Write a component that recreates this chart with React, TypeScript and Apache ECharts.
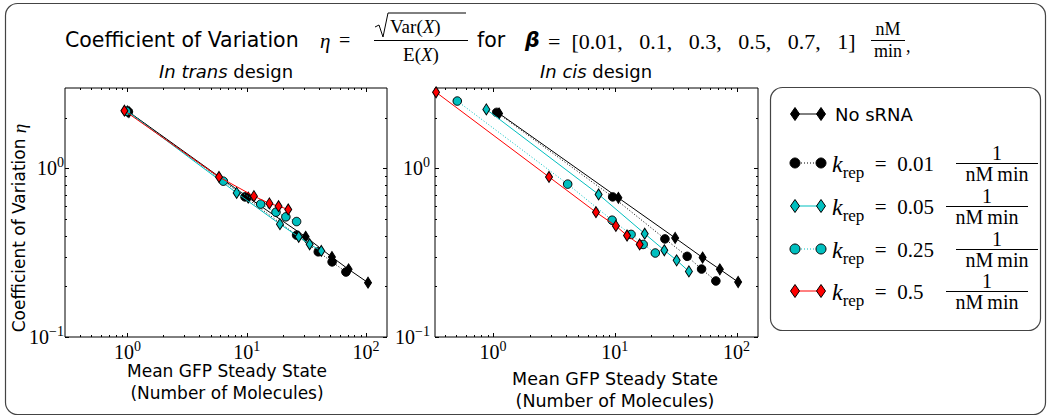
import React, { useEffect, useRef } from 'react';
import * as echarts from 'echarts';

// ---------- data ----------
const betaValues = [0.01, 0.1, 0.3, 0.5, 0.7, 1];
const seriesNames = ['No sRNA', 'k_rep = 0.01', 'k_rep = 0.05', 'k_rep = 0.25', 'k_rep = 0.5'];

// In trans design
const transNoSrnaX = [1.03, 10.3, 31.2, 51.8, 71.5, 104];
const transNoSrnaY = [2.16, 0.672, 0.393, 0.298, 0.252, 0.21];
const transK001X = [1.02, 9.68, 26.2, 39.8, 52, 67.9];
const transK001Y = [2.17, 0.678, 0.402, 0.32, 0.279, 0.243];
const transK005X = [1.0, 8.24, 19.0, 27.3, 33.7, 42.2];
const transK005Y = [2.18, 0.716, 0.467, 0.393, 0.355, 0.324];
const transK025X = [0.98, 6.37, 13.1, 17.6, 21.3, 26.2];
const transK025Y = [2.18, 0.84, 0.614, 0.55, 0.516, 0.484];
const transK05X = [0.944, 5.86, 11.5, 15.5, 18.5, 22.3];
const transK05Y = [2.2, 0.89, 0.685, 0.62, 0.597, 0.571];

// In cis design
const cisNoSrnaX = [1.12, 10.7, 31.3, 52.6, 72.9, 103];
const cisNoSrnaY = [2.12, 0.669, 0.387, 0.296, 0.252, 0.212];
const cisK001X = [1.07, 9.6, 25.8, 39.3, 51.6, 67.6];
const cisK001Y = [2.15, 0.678, 0.382, 0.301, 0.253, 0.215];
const cisK005X = [0.88, 7.36, 17.6, 25.5, 32.2, 40.6];
const cisK005Y = [2.24, 0.701, 0.41, 0.327, 0.285, 0.245];
const cisK025X = [0.508, 4.1, 9.5, 13.6, 17.1, 21.5];
const cisK025Y = [2.51, 0.807, 0.493, 0.406, 0.354, 0.315];
const cisK05X = [0.34, 2.88, 7.0, 10.2, 12.6, 16.0];
const cisK05Y = [2.83, 0.89, 0.55, 0.456, 0.4, 0.354];

// axes
const transXRange = [0.3, 150];
const cisXRange = [0.3333, 150];
const yRange = [0.1, 3];
const xMajorTicks = [1, 10, 100];
const xTickExponents = ['0', '1', '2'];
const xMinorTicks = [0.4, 0.5, 0.6, 0.7, 0.8, 0.9, 2, 3, 4, 5, 6, 7, 8, 9, 20, 30, 40, 50, 60, 70, 80, 90];
const yMajorTicks = [0.1, 1];
const yTickExponents = ['\u22121', '0'];
const yMinorTicks = [0.2, 0.3, 0.4, 0.5, 0.6, 0.7, 0.8, 0.9, 2];

// ---------- styling ----------
const BLACK = '#000000';
const CYAN = '#00BFBF';
const RED = '#FF0000';
const SERIF = '"Liberation Serif", "DejaVu Serif", serif';
const SANS = '"DejaVu Sans", sans-serif';

const seriesStyles = [
  { color: BLACK, symbol: 'diamond', dotted: false },
  { color: BLACK, symbol: 'circle', dotted: true },
  { color: CYAN, symbol: 'diamond', dotted: false },
  { color: CYAN, symbol: 'circle', dotted: true },
  { color: RED, symbol: 'diamond', dotted: false },
];

const tickRich = {
  b: { fontFamily: 'Liberation Serif', fontSize: 20, lineHeight: 20, padding: [6, 0, 0, 0], color: '#000' },
  s: { fontFamily: 'Liberation Serif', fontSize: 14, lineHeight: 14, verticalAlign: 'top', color: '#000' },
};

function findIdx(ticks: number[], v: number) {
  return ticks.findIndex((t) => Math.abs(Math.log10(v) - Math.log10(t)) < 1e-6);
}

function xAxisFor(range: number[], gridIndex: number, position: 'bottom' | 'top') {
  return {
    type: 'log',
    gridIndex,
    position,
    min: range[0],
    max: range[1],
    logBase: 10,
    axisLine: { show: false },
    axisTick: { show: false },
    splitLine: { show: false },
    minorTick: { show: false },
    axisLabel: {
      show: position === 'bottom',
      margin: 2,
      interval: 0,
      rich: tickRich,
      formatter: (v: number) => {
        const i = findIdx(xMajorTicks, v);
        return i < 0 ? '' : `{b|10}{s|${xTickExponents[i]}}`;
      },
    },
  };
}

function yAxisFor(gridIndex: number, position: 'left' | 'right', margin: number) {
  return {
    type: 'log',
    gridIndex,
    position,
    min: yRange[0],
    max: yRange[1],
    logBase: 10,
    axisLine: { show: false },
    axisTick: { show: false },
    splitLine: { show: false },
    minorTick: { show: false },
    axisLabel: {
      show: position === 'left',
      margin,
      interval: 0,
      showMinLabel: true,
      padding: [0, 0, 6, 0],
      rich: tickRich,
      formatter: (v: number) => {
        const i = findIdx(yMajorTicks, v);
        return i < 0 ? '' : `{b|10}{s|${yTickExponents[i]}}`;
      },
    },
  };
}

function tickSeries(gridIndex: number, values: number[], dir: 'x' | 'y', len: number) {
  return {
    type: 'custom',
    xAxisIndex: gridIndex * 2,
    yAxisIndex: gridIndex * 2,
    silent: true,
    z: 20,
    data: values.map((v) => (dir === 'x' ? [v, 1] : [1, v])),
    renderItem: (params: any, api: any) => {
      const cs = params.coordSys;
      const st = { stroke: '#000', lineWidth: 1 };
      if (dir === 'x') {
        const x = Math.round(api.coord([api.value(0), 1])[0]) + 0.5;
        const b = cs.y + cs.height;
        return {
          type: 'group',
          children: [
            { type: 'line', shape: { x1: x, y1: b, x2: x, y2: b - len }, style: st },
            { type: 'line', shape: { x1: x, y1: cs.y, x2: x, y2: cs.y + len }, style: st },
          ],
        };
      }
      const y = Math.round(api.coord([1, api.value(1)])[1]) + 0.5;
      const r = cs.x + cs.width;
      return {
        type: 'group',
        children: [
          { type: 'line', shape: { x1: cs.x, y1: y, x2: cs.x + len, y2: y }, style: st },
          { type: 'line', shape: { x1: r, y1: y, x2: r - len, y2: y }, style: st },
        ],
      };
    },
  };
}

function dataSeries(gridIndex: number, xsList: number[][], ysList: number[][]) {
  return xsList.map((xs, k) => {
    const s = seriesStyles[k];
    return {
      type: 'line',
      name: seriesNames[k],
      xAxisIndex: gridIndex * 2,
      yAxisIndex: gridIndex * 2,
      z: 3 + k,
      silent: true,
      data: xs.map((x, i) => [x, ysList[k][i]]),
      symbol: s.symbol,
      symbolSize: s.symbol === 'diamond' ? [7, 11] : 8.5,
      showSymbol: true,
      itemStyle: { color: s.color, borderColor: '#000', borderWidth: 1 },
      lineStyle: { color: s.color, width: 1, type: s.dotted ? [1, 2] : 'solid' },
      emphasis: { disabled: true },
    };
  });
}

// ---------- legend graphic helpers ----------
function diamond(cx: number, cy: number, color: string) {
  return {
    type: 'polygon',
    shape: { points: [[cx, cy - 6.5], [cx + 4.5, cy], [cx, cy + 6.5], [cx - 4.5, cy]] },
    style: { fill: color, stroke: '#000', lineWidth: 1 },
  };
}
function dot(cx: number, cy: number, color: string) {
  return { type: 'circle', shape: { cx, cy, r: 5 }, style: { fill: color, stroke: '#000', lineWidth: 1 } };
}
function txt(x: number, y: number, text: string, font: string, align = 'left', extra: any = {}) {
  return {
    type: 'text',
    x,
    y,
    style: { text, font, fill: '#000', textAlign: align, textVerticalAlign: 'middle', ...extra },
  };
}
function hline(x1: number, x2: number, y: number, color = '#000', dash: any = null, w = 1) {
  return {
    type: 'line',
    shape: { x1, y1: y, x2, y2: y },
    style: { stroke: color, lineWidth: w, lineDash: dash },
  };
}

const kRich = {
  k: { fontFamily: 'Liberation Serif', fontStyle: 'italic', fontSize: 24, padding: [0, 0, 5, 0] },
  sub: { fontFamily: 'Liberation Serif', fontSize: 17, verticalAlign: 'bottom' },
  t: { fontFamily: 'Liberation Serif', fontSize: 21, padding: [0, 0, 5, 0] },
};

export default function App() {
  const ref = useRef<HTMLDivElement>(null);
  useEffect(() => {
    if (!ref.current) return;
    const chart = echarts.init(ref.current, undefined, { renderer: 'svg' });

    const legendRows = [114, 163, 206, 249, 291];
    const kValues = ['0.01', '0.05', '0.25', '0.5'];
    const fracCenters = [997, 987, 997, 987];
    const mx1 = 795;
    const mx2 = 821;

    const legendEls: any[] = [
      {
        type: 'rect',
        shape: { x: 770.5, y: 87.5, width: 270, height: 243, r: 12 },
        style: { fill: '#fff', stroke: '#444', lineWidth: 1.2 },
      },
    ];
    seriesStyles.forEach((s, k) => {
      const y = legendRows[k];
      legendEls.push(hline(mx1, mx2, y, s.color, s.dotted ? [1, 2] : null));
      const mk = s.symbol === 'diamond' ? diamond : dot;
      legendEls.push(mk(mx1, y, s.color));
      legendEls.push(mk(mx2, y, s.color));
      if (k === 0) {
        legendEls.push(txt(835, y, 'No sRNA', `18px ${SANS}`));
      } else {
        legendEls.push(
          txt(832, y + 3, `{k|k}{sub|rep}{t|\u2002=\u2002${kValues[k - 1]}}`, `21px ${SERIF}`, 'left', { rich: kRich })
        );
        const c = fracCenters[k - 1];
        legendEls.push(txt(c, y - 10, '1', `20px ${SERIF}`, 'center'));
        legendEls.push(hline(c - 41, c + 41, y + 0.5));
        legendEls.push(txt(c, y + 11, 'nM\u2009min', `20px ${SERIF}`, 'center'));
      }
    });

    const serifRich = {
      r: { fontFamily: 'Liberation Serif', fontSize: 19 },
      i: { fontFamily: 'Liberation Serif', fontSize: 19, fontStyle: 'italic' },
    };
    const sansRich = {
      i: { fontFamily: 'DejaVu Sans', fontSize: 18, fontStyle: 'italic' },
      n: { fontFamily: 'DejaVu Sans', fontSize: 18 },
    };

    const titleEls: any[] = [
      txt(65, 40, 'Coefficient of Variation', `20.5px ${SANS}`),
      txt(320, 41, '\u03b7', `italic 21px ${SERIF}`),
      txt(339, 40, '=', `20px ${SERIF}`),
      {
        type: 'polyline',
        shape: { points: [[375, 27], [379, 25], [383, 37], [388, 13], [466, 13]] },
        style: { stroke: '#000', lineWidth: 1, fill: 'none' },
      },
      txt(390, 26, '{r|Var(}{i|X}{r|)}', `19px ${SERIF}`, 'left', { rich: serifRich }),
      hline(374, 468, 40.5),
      txt(421, 54, '{r|E(}{i|X}{r|)}', `19px ${SERIF}`, 'center', { rich: serifRich }),
      txt(477, 40, 'for', `20.5px ${SANS}`),
      txt(525, 40, '\u03b2', `italic bold 20.5px ${SANS}`),
      txt(548, 41, '=  [' + betaValues.join(',   ') + ']', `22px ${SERIF}`),
      txt(888, 29, 'nM', `18px ${SERIF}`, 'center'),
      hline(871, 905, 40.5),
      txt(888, 51, 'min', `18px ${SERIF}`, 'center'),
      txt(906, 46, ',', `18px ${SERIF}`),
      txt(226, 71, '{i|In trans}{n| design}', `18px ${SANS}`, 'center', { rich: sansRich }),
      txt(596, 71, '{i|In cis}{n| design}', `18px ${SANS}`, 'center', { rich: sansRich }),
      {
        type: 'text',
        x: 19,
        y: 228,
        rotation: Math.PI / 2,
        style: {
          text: '{s|Coefficient of Variation }{m|\u03b7}',
          textAlign: 'center',
          textVerticalAlign: 'middle',
          rich: {
            s: { fontFamily: 'DejaVu Sans', fontSize: 17 },
            m: { fontFamily: 'Liberation Serif', fontSize: 19, fontStyle: 'italic' },
          },
        },
      },
      txt(227, 371, 'Mean GFP Steady State', `17px ${SANS}`, 'center'),
      txt(227, 393, '(Number of Molecules)', `17px ${SANS}`, 'center'),
      txt(615, 379, 'Mean GFP Steady State', `17.5px ${SANS}`, 'center'),
      txt(615, 401, '(Number of Molecules)', `17.5px ${SANS}`, 'center'),
    ];

    const option: any = {
      animation: false,
      backgroundColor: '#ffffff',
      grid: [
        { left: 65, top: 88, width: 322, height: 249, show: true, borderColor: '#000', borderWidth: 1, backgroundColor: 'transparent' },
        { left: 435, top: 88, width: 323, height: 249, show: true, borderColor: '#000', borderWidth: 1, backgroundColor: 'transparent' },
      ],
      xAxis: [
        xAxisFor(transXRange, 0, 'bottom'),
        xAxisFor(transXRange, 0, 'top'),
        xAxisFor(cisXRange, 1, 'bottom'),
        xAxisFor(cisXRange, 1, 'top'),
      ],
      yAxis: [yAxisFor(0, 'left', 1), yAxisFor(0, 'right', 1), yAxisFor(1, 'left', 5), yAxisFor(1, 'right', 5)],
      series: [
        tickSeries(0, xMajorTicks, 'x', 4),
        tickSeries(0, xMinorTicks, 'x', 2),
        tickSeries(0, yMajorTicks, 'y', 4),
        tickSeries(0, yMinorTicks, 'y', 2),
        tickSeries(1, xMajorTicks, 'x', 4),
        tickSeries(1, xMinorTicks, 'x', 2),
        tickSeries(1, yMajorTicks, 'y', 4),
        tickSeries(1, yMinorTicks, 'y', 2),
        ...dataSeries(
          0,
          [transNoSrnaX, transK001X, transK005X, transK025X, transK05X],
          [transNoSrnaY, transK001Y, transK005Y, transK025Y, transK05Y]
        ),
        ...dataSeries(
          1,
          [cisNoSrnaX, cisK001X, cisK005X, cisK025X, cisK05X],
          [cisNoSrnaY, cisK001Y, cisK005Y, cisK025Y, cisK05Y]
        ),
      ],
      graphic: [
        {
          type: 'rect',
          shape: { x: 5.5, y: 3.5, width: 1040, height: 411, r: 12 },
          style: { fill: 'none', stroke: '#444', lineWidth: 1.2 },
          silent: true,
        },
        ...titleEls,
        ...legendEls,
      ],
    };
    chart.setOption(option);
    return () => chart.dispose();
  }, []);
  return (
    <div
      ref={ref}
      style={{ position: 'fixed', left: 0, top: 0, width: 1051, height: 419, background: '#fff' }}
    />
  );
}
